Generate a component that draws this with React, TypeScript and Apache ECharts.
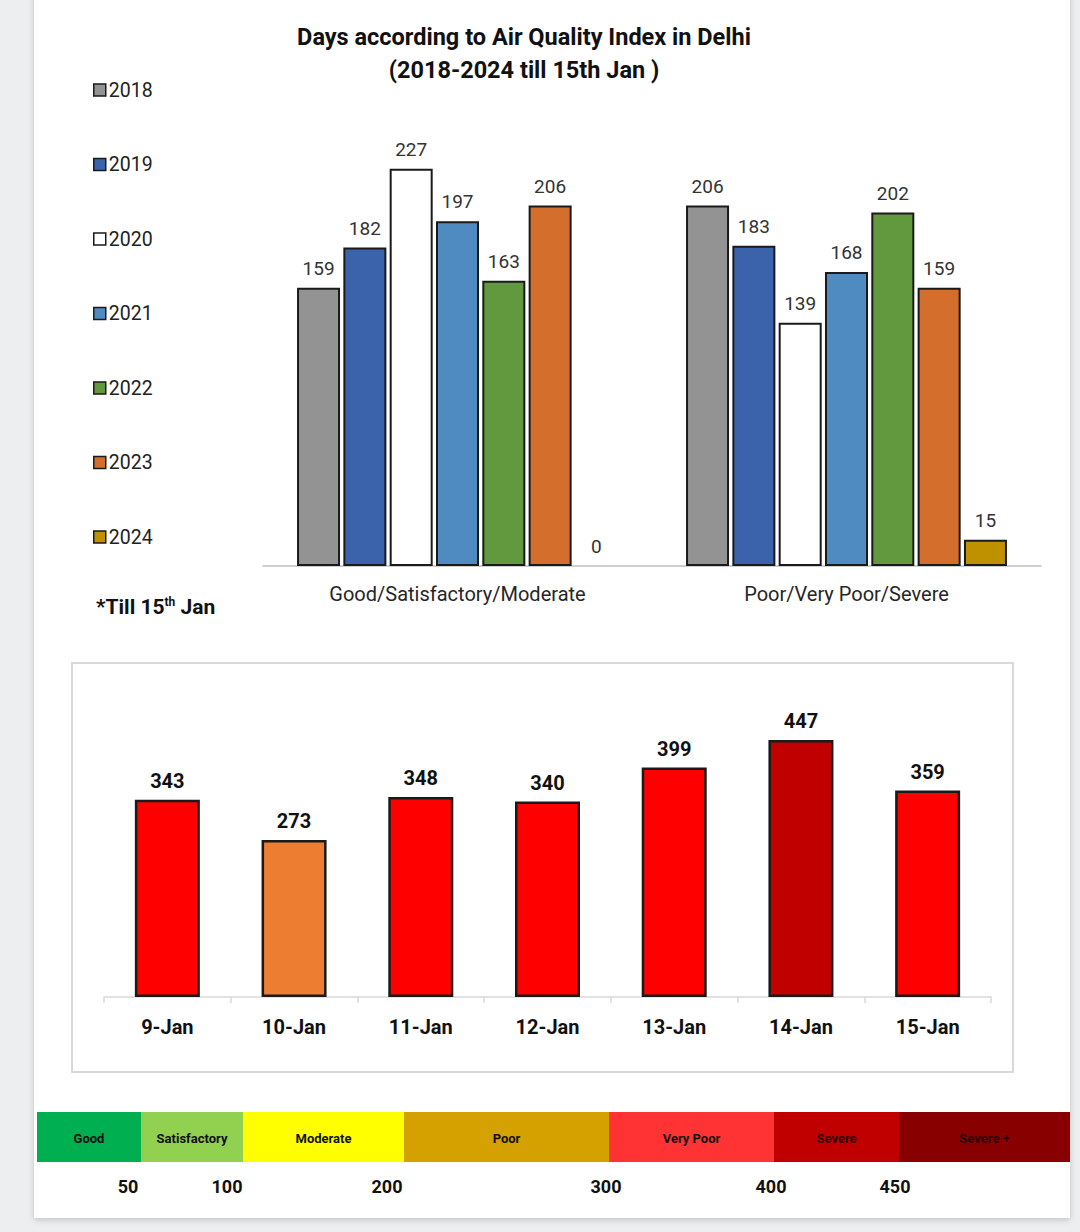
import React, { useEffect, useRef } from "react";
import * as echarts from "echarts";

// ---- data ----
const years = ["2018", "2019", "2020", "2021", "2022", "2023", "2024"];
const aqiGroups = ["Good/Satisfactory/Moderate", "Poor/Very Poor/Severe"];
const daysGoodSatMod = [159, 182, 227, 197, 163, 206, 0];
const daysPoorVpSevere = [206, 183, 139, 168, 202, 159, 15];

const dailyDates = ["9-Jan", "10-Jan", "11-Jan", "12-Jan", "13-Jan", "14-Jan", "15-Jan"];
const dailyAqi = [343, 273, 348, 340, 399, 447, 359];

const scaleBands = ["Good", "Satisfactory", "Moderate", "Poor", "Very Poor", "Severe", "Severe +"];
const scaleThresholds = ["50", "100", "200", "300", "400", "450"];

// ---- styles / layout ----
const FONT = "Roboto, 'Noto Sans', sans-serif";
const yearColors = ["#939393", "#3A63AB", "#FFFFFF", "#4F8AC0", "#62993E", "#D46E2C", "#BF9000"];
const bandColors = ["#00B050", "#92D050", "#FFFF00", "#D4A100", "#FF3333", "#C00000", "#880000"];
const bandTextColors = ["#111", "#111", "#111", "#111", "#111", "#2a0000", "#2a0000"];
const bandEdges = [37, 141, 243, 404, 609, 774, 899, 1070];
const thresholdX = [128, 227, 387, 606, 771, 895];

function aqiBarColor(v: number): string {
  if (v >= 400) return "#C00000";
  if (v >= 300) return "#FF0000";
  return "#ED7D31";
}

export default function App() {
  const ref = useRef<HTMLDivElement>(null);

  useEffect(() => {
    if (!ref.current) return;
    const chart = echarts.init(ref.current, undefined, { renderer: "svg" });

    const graphics: any[] = [
      {
        type: "rect",
        z: -10,
        shape: { x: 34, y: -10, width: 1036, height: 1228 },
        style: { fill: "#FFFFFF", shadowBlur: 6, shadowColor: "rgba(0,0,0,0.18)", shadowOffsetY: 2 },
        silent: true,
      },
      {
        type: "rect",
        z: -5,
        shape: { x: 72, y: 663, width: 941, height: 409 },
        style: { fill: "#FFFFFF", stroke: "#D9D9D9", lineWidth: 2 },
        silent: true,
      },
      {
        type: "text",
        x: 96,
        y: 607,
        style: {
          text: "{a|*Till 15}{s|th}{a| Jan}",
          verticalAlign: "middle",
          rich: {
            a: { fontFamily: FONT, fontSize: 21, fontWeight: "bold", fill: "#111" },
            s: { fontFamily: FONT, fontSize: 12, fontWeight: "bold", fill: "#111", verticalAlign: "top", padding: [0, 0, 10, 0] },
          },
        },
      },
    ];

    scaleBands.forEach((name, i) => {
      const x0 = bandEdges[i];
      const x1 = bandEdges[i + 1];
      graphics.push({
        type: "rect",
        z: -1,
        shape: { x: x0, y: 1112, width: x1 - x0, height: 50 },
        style: { fill: bandColors[i] },
        silent: true,
      });
      graphics.push({
        type: "text",
        x: (x0 + x1) / 2,
        y: 1138,
        style: {
          text: name,
          align: "center",
          verticalAlign: "middle",
          fontFamily: FONT,
          fontSize: 13,
          fontWeight: "bold",
          fill: bandTextColors[i],
        },
      });
    });

    scaleThresholds.forEach((t, i) => {
      graphics.push({
        type: "text",
        x: thresholdX[i],
        y: 1186,
        style: {
          text: t,
          align: "center",
          verticalAlign: "middle",
          fontFamily: FONT,
          fontSize: 18,
          fontWeight: "bold",
          fill: "#111",
        },
      });
    });

    const yearSeries = years.map((y, i) => ({
      name: y,
      type: "bar",
      xAxisIndex: 0,
      yAxisIndex: 0,
      data: [daysGoodSatMod[i], daysPoorVpSevere[i]].map((v) =>
        v === 0 ? { value: v, itemStyle: { borderWidth: 0 } } : v
      ),
      barGap: "7.7%",
      barCategoryGap: "17.5%",
      itemStyle: { color: yearColors[i], borderColor: "#1a1a1a", borderWidth: 2 },
      label: {
        show: true,
        position: "top",
        distance: 10,
        fontFamily: FONT,
        fontSize: 19,
        color: "#333",
      },
    }));

    const option: any = {
      animation: false,
      backgroundColor: "#EDEEF0",
      title: {
        text: "Days according to Air Quality Index in Delhi\n(2018-2024 till 15th Jan )",
        left: 519,
        top: 15,
        textAlign: "center",
        textStyle: {
          fontFamily: FONT,
          fontSize: 23.5,
          fontWeight: "bold",
          color: "#111",
          lineHeight: 33,
        },
      },
      legend: {
        orient: "vertical",
        left: 88,
        top: 74,
        data: years,
        icon: "rect",
        itemWidth: 12,
        itemHeight: 12,
        itemGap: 52.5,
        itemStyle: { borderWidth: 1.5, borderColor: "#1a1a1a" },
        textStyle: { fontFamily: FONT, fontSize: 19.5, color: "#222", lineHeight: 22, padding: [0, 0, 0, -2] },
        selectedMode: false,
      },
      graphic: graphics,
      grid: [
        { left: 263, top: 128.5, width: 778, height: 437.5 },
        { left: 104, top: 709.5, width: 887, height: 287.5 },
      ],
      xAxis: [
        {
          type: "category",
          gridIndex: 0,
          data: aqiGroups,
          axisLine: { lineStyle: { color: "#BFBFBF", width: 1.5 } },
          axisTick: { show: false },
          axisLabel: { margin: 18, fontFamily: FONT, fontSize: 20, color: "#262626" },
        },
        {
          type: "category",
          gridIndex: 1,
          data: dailyDates,
          axisLine: { lineStyle: { color: "#D9D9D9", width: 1.5 } },
          axisTick: { show: true, length: 6, lineStyle: { color: "#D9D9D9", width: 1.5 } },
          axisLabel: { margin: 20, fontFamily: FONT, fontSize: 20, fontWeight: "bold", color: "#111" },
        },
      ],
      yAxis: [
        { type: "value", gridIndex: 0, min: 0, max: 250, show: false, splitLine: { show: false } },
        { type: "value", gridIndex: 1, min: 0, max: 500, show: false, splitLine: { show: false } },
      ],
      series: [
        ...yearSeries,
        {
          name: "AQI",
          type: "bar",
          xAxisIndex: 1,
          yAxisIndex: 1,
          barWidth: 65,
          data: dailyAqi.map((v) => ({
            value: v,
            itemStyle: { color: aqiBarColor(v) },
          })),
          itemStyle: { borderColor: "#1a1a1a", borderWidth: 2.5 },
          label: {
            show: true,
            position: "top",
            distance: 9,
            fontFamily: FONT,
            fontSize: 20,
            fontWeight: "bold",
            color: "#111",
          },
        },
      ],
    };

    chart.setOption(option);
    return () => chart.dispose();
  }, []);

  return (
    <div
      ref={ref}
      style={{ position: "absolute", left: 0, top: 0, width: 1080, height: 1232 }}
    />
  );
}
